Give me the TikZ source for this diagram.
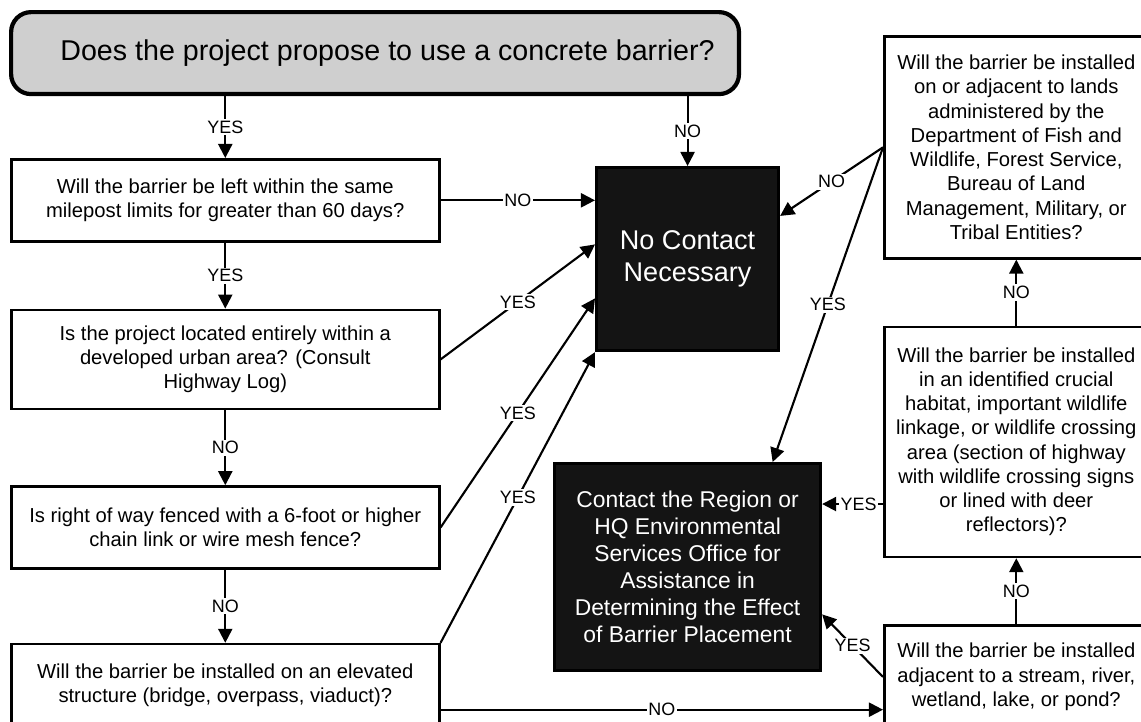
\documentclass[tikz,border=0pt]{standalone}
\usepackage{fontspec}
\setmainfont{Liberation Sans}
\usepackage{tikz}
\usetikzlibrary{positioning}
\usetikzlibrary{shapes,arrows.meta,calc}
\tikzstyle{topq} = [rectangle, draw, line width=2.4pt, fill=black!19,
                rounded corners=0.4cm, inner sep=0pt, align=center, font=\fontsize{16.3}{19}\selectfont]
\tikzstyle{block} = [rectangle, draw, line width=1.5pt, fill=white, inner sep=0pt,
                align=center, minimum width=8.56cm, font=\fontsize{11.5}{13.8}\selectfont]
\tikzstyle{sideblock} = [block, minimum width=5.28cm]
\tikzstyle{result} = [rectangle, draw, line width=1.8pt, fill=black!92, text=white,
                inner sep=0pt, align=center]
\tikzstyle{line} = [draw, line width=1.2pt, -{Triangle[length=8pt,width=8pt]}]
\tikzstyle{lbl} = [fill=white, inner sep=1pt, font=\fontsize{10.2}{12}\selectfont]

\begin{document}
\begin{tikzpicture}[x=0.02cm, y=-0.02cm]
            \useasboundingbox (0,0) rectangle (1141,721);
            \node[topq, anchor=north west, minimum width=14.56cm, minimum height=1.64cm](concrete) at (9,10){\hspace*{0.5cm}Does the project propose to use a concrete barrier?};
            \node[block, anchor=north west, minimum height=1.64cm](days) at (10,158){Will the barrier be left within the same\\ milepost limits for greater than 60 days?};
            \node[block, below=1.32cm of days, minimum height=1.98cm](urban){Is the project located entirely within a\\ developed urban area? (Consult\\ Highway Log)};
            \node[block, below=1.5cm of urban, minimum height=1.64cm](fence){Is right of way fenced with a 6-foot or higher\\ chain link or wire mesh fence?};
            \node[block, below=1.46cm of fence, minimum height=1.64cm](elevated){Will the barrier be installed on an elevated\\ structure (bridge, overpass, viaduct)?};
            \node[result, anchor=north west, minimum width=3.64cm, minimum height=3.66cm, font=\fontsize{15.4}{18.2}\selectfont](nocontact) at (595,166){No Contact\\ Necessary};
            \node[result, anchor=north west, minimum width=5.32cm, minimum height=4.14cm, font=\fontsize{13}{15.4}\selectfont](contact) at (553,462){Contact the Region or\\ HQ Environmental\\ Services Office for\\ Assistance in\\ Determining the Effect\\ of Barrier Placement};
            \node[sideblock, anchor=north west, minimum height=4.44cm](lands) at (883,35){Will the barrier be installed\\ on or adjacent to lands\\ administered by the\\ Department of Fish and\\ Wildlife, Forest Service,\\ Bureau of Land\\ Management, Military, or\\ Tribal Entities?};
            \node[sideblock, below=1.32cm of lands, minimum height=4.6cm](habitat){Will the barrier be installed\\ in an identified crucial\\ habitat, important wildlife\\ linkage, or wildlife crossing\\ area (section of highway\\ with wildlife crossing signs\\ or lined with deer\\ reflectors)?};
            \node[sideblock, below=1.32cm of habitat, minimum height=2.06cm](stream){Will the barrier be installed\\ adjacent to a stream, river,\\ wetland, lake, or pond?};
            \coordinate (elevno) at ($(elevated.north east)!0.79!(elevated.south east)$);
            \coordinate (habyes) at ($(contact.north east)!0.2!(contact.south east)$);
            \coordinate (streamyes) at ($(contact.north east)!0.725!(contact.south east)$);
            \path[line] (days.north |- concrete.south) -- node[lbl]{YES} (days.north);
            \path[line] (nocontact.north |- concrete.south) -- node[lbl]{NO} (nocontact.north);
            \path[line] (days.east) -- node[lbl]{NO} (days.east -| nocontact.west);
            \path[line] (days.south) -- node[lbl]{YES} (urban.north);
            \path[line] (urban.south) -- node[lbl]{NO} (fence.north);
            \path[line] (fence.south) -- node[lbl]{NO} (elevated.north);
            \path[line] (urban.east) -- node[lbl]{YES} (nocontact.171);
            \path[line] (fence.east) -- node[lbl]{YES} (nocontact.203);
            \path[line] (elevated.north east) -- node[lbl]{YES} (nocontact.south west);
            \path[line] (elevno) -- node[lbl]{NO} (elevno -| stream.west);
            \path[line] (lands.west) -- node[lbl]{NO} (nocontact.25);
            \path[line] (lands.west) -- node[lbl]{YES} (contact.51);
            \path[line] (habitat.north) -- node[lbl]{NO} (lands.south);
            \path[line] (stream.north) -- node[lbl]{NO} (habitat.south);
            \path[line] (habyes -| habitat.west) -- node[lbl, pos=0.4]{YES} (habyes);
            \path[line] (stream.west) -- node[lbl]{YES} (streamyes);
        \end{tikzpicture}
\end{document}
